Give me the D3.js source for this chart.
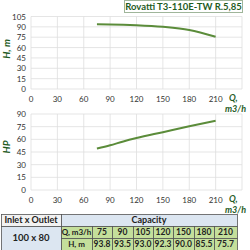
<!DOCTYPE html>
<html>
<head>
<meta charset="utf-8">
<script src="https://cdn.jsdelivr.net/npm/d3@7"></script>
<style>
  body { margin: 0; background: #fff; }
  svg { font-family: Lato, "Open Sans", sans-serif; }
</style>
</head>
<body>
<svg id="container" width="250" height="250"></svg>
<script>
const flow = [75, 90, 105, 120, 150, 180, 210]
const head = [93.8, 93.5, 93.0, 92.3, 90.0, 85.5, 75.7]
const power = [49, 53, 57.5, 61.5, 68.5, 75.5, 82]
const qTicks = [0, 30, 60, 90, 120, 150, 180, 210]
const hTicks = [0, 15, 30, 45, 60, 75, 90, 105]
const pTicks = [0, 15, 30, 45, 60, 75, 90]

const green = '#5b8c3a', dark = '#1f5c1f'
const svg = d3.select('#container')

const x = d3.scaleLinear().domain([0, 240]).range([31, 242])

// one small chart panel
const panel = (yDomain, yRange, ticks, values, yLabel, labelY) => {
  const y = d3.scaleLinear().domain(yDomain).range(yRange)
  const g = svg.append('g')

  g.selectAll('.hg').data(ticks).enter().append('line')
    .attr('x1', x(0)).attr('x2', x(240))
    .attr('y1', (d) => y(d)).attr('y2', (d) => y(d))
    .attr('stroke', '#dedede').attr('stroke-width', 0.8)
  g.selectAll('.vg').data(qTicks.concat([240])).enter().append('line')
    .attr('x1', (d) => x(d)).attr('x2', (d) => x(d))
    .attr('y1', y(0)).attr('y2', y(yDomain[1]))
    .attr('stroke', '#dedede').attr('stroke-width', 0.8)

  g.selectAll('.yl').data(ticks).enter().append('text')
    .attr('x', 26).attr('y', (d) => y(d) + 3)
    .attr('text-anchor', 'end').attr('font-size', 8).attr('fill', '#333')
    .text((d) => d)
  g.selectAll('.xl').data(qTicks).enter().append('text')
    .attr('x', (d) => x(d)).attr('y', y(0) + 13)
    .attr('text-anchor', 'middle').attr('font-size', 8).attr('fill', '#333')
    .text((d) => d)

  const line = d3.line().x((d, i) => x(flow[i])).y((d) => y(d)).curve(d3.curveMonotoneX)
  g.append('path').datum(values).attr('d', line)
    .attr('fill', 'none').attr('stroke', green).attr('stroke-width', 2)

  g.append('text').attr('transform', `translate(10, ${labelY}) rotate(-90)`)
    .attr('text-anchor', 'middle').attr('font-size', 10).attr('font-weight', 'bold')
    .attr('font-style', 'italic').attr('fill', dark).text(yLabel)
  g.append('text').attr('x', 229).attr('y', y(0) + 12)
    .attr('font-size', 9).attr('font-weight', 'bold').attr('font-style', 'italic')
    .attr('fill', dark).text('Q,')
  g.append('text').attr('x', 246).attr('y', y(0) + 23).attr('text-anchor', 'end')
    .attr('font-size', 9).attr('font-weight', 'bold').attr('font-style', 'italic')
    .attr('fill', dark).text('m3/h')
}

panel([0, 105], [89, 16.5], hTicks, head, 'H, m', 49)
panel([0, 90], [190, 114], pTicks, power, 'HP', 147)

// title box
svg.append('rect').attr('x', 124.5).attr('y', 0.5).attr('width', 118).attr('height', 12)
  .attr('fill', '#fff').attr('stroke', '#9fb59a')
svg.append('text').attr('x', 183.5).attr('y', 10).attr('text-anchor', 'middle')
  .attr('font-size', 9.5).attr('font-weight', 'bold').attr('fill', dark)
  .text('Rovatti T3-110E-TW R.5,85')

// table
const cols = [61, 92, 112, 133, 153, 173, 194, 214, 237]
const rows = [214, 226, 238, 250]
const t = svg.append('g').attr('font-weight', 'bold').attr('fill', '#222')
const cell = (x0, x1, y0, y1, fill, label, size) => {
  t.append('rect').attr('x', x0 + 0.5).attr('y', y0 + 0.5).attr('width', x1 - x0).attr('height', y1 - y0)
    .attr('fill', fill).attr('stroke', '#555').attr('stroke-width', 0.8)
  t.append('text').attr('x', (x0 + x1) / 2).attr('y', (Math.min(y1, 250) + y0) / 2 + 3.2)
    .attr('text-anchor', 'middle').attr('font-size', size || 8.5).text(label)
}
cell(1, cols[0], rows[0], rows[1], '#f2f2f2', 'Inlet x Outlet', 9)
cell(cols[0], cols[8], rows[0], rows[1], '#dce6f1', 'Capacity', 9)
cell(1, cols[0], rows[1], rows[3], '#dce6f1', '100 x 80', 9.5)
cell(cols[0], cols[1], rows[1], rows[2], '#c4df9b', 'Q, m3/h', 8)
cell(cols[0], cols[1], rows[2], rows[3] + 4, '#c4df9b', 'H, m', 8)
flow.forEach((q, i) => {
  cell(cols[i + 1], cols[i + 2], rows[1], rows[2], '#c4df9b', q)
  cell(cols[i + 1], cols[i + 2], rows[2], rows[3] + 4, '#c4df9b', head[i].toFixed(1))
})
</script>
</body>
</html>
